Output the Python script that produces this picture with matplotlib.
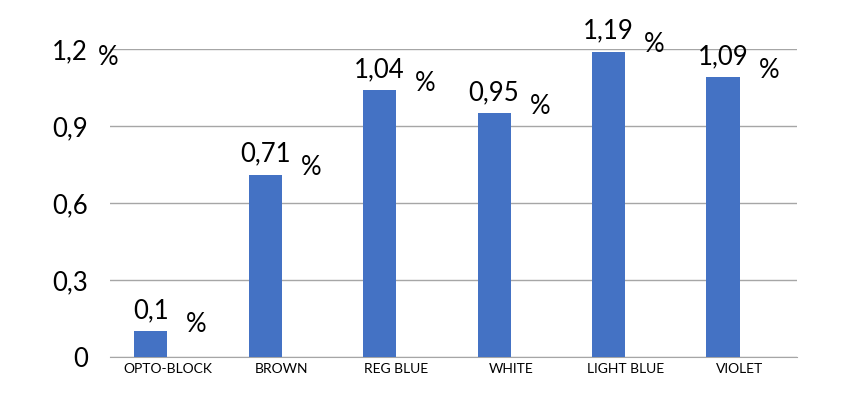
import matplotlib.pyplot as plt

categories = ['OPTO-BLOCK', 'BROWN', 'REG BLUE', 'WHITE', 'LIGHT BLUE', 'VIOLET']
values = [0.10, 0.71, 1.04, 0.95, 1.19, 1.09]
value_labels = ['0,1', '0,71', '1,04', '0,95', '1,19', '1,09']
y_ticks = [0, 0.3, 0.6, 0.9, 1.2]
y_tick_labels = ['0', '0,3', '0,6', '0,9', '1,2']

plt.rcParams['font.family'] = ['Lato', 'DejaVu Sans']

fig = plt.figure(figsize=(8.54, 3.96), dpi=100)
ax = fig.add_axes([0.129, 0.0985, 0.804, 0.7775])

# bars sit on the left half of each category slot (second series is empty)
x = list(range(len(categories)))
bw = 0.29
bx = [xi - bw / 2 for xi in x]
ax.bar(bx, values, width=bw, color='#4472C4', zorder=3)

for xi, v, lab in zip(bx, values, value_labels):
    ax.annotate(lab, (xi, v), xytext=(0, 6), textcoords='offset points',
                ha='center', va='bottom', fontsize=18.5, color='black')
    ax.annotate('%', (xi, v), xytext=(33, 5), textcoords='offset points',
                ha='center', va='center', fontsize=18.5, color='black')

# stray percent sign next to the top tick label
fig.text(0.127, 0.855, '%', ha='center', va='center', fontsize=18.5)

ax.set_xlim(-0.5, len(categories) - 0.5)
ax.set_ylim(0, 1.2)
ax.set_yticks(y_ticks)
ax.set_yticklabels(y_tick_labels, fontsize=18.5)
ax.set_xticks(x)
ax.set_xticklabels(categories, fontsize=10)
ax.tick_params(axis='y', length=0, pad=16)
ax.tick_params(axis='x', length=0, pad=4)

ax.grid(axis='y', color='#A6A6A6', linewidth=1, zorder=0)
for side in ['top', 'right', 'left']:
    ax.spines[side].set_visible(False)
ax.spines['bottom'].set_color('#A6A6A6')

fig.savefig('out.png', dpi=100)
